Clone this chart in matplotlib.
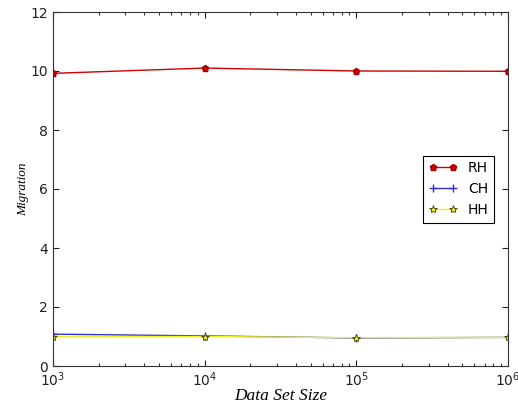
import matplotlib
matplotlib.use("Agg")
import matplotlib.pyplot as plt

sizes = [1e3, 1e4, 1e5, 1e6]
rh = [9.92, 10.1, 10.0, 9.99]
ch = [1.08, 1.02, 0.95, 0.97]
hh = [1.0, 1.0, 0.96, 0.97]

plt.rcParams["xtick.direction"] = "in"
plt.rcParams["ytick.direction"] = "in"
plt.rcParams["xtick.top"] = True
plt.rcParams["ytick.right"] = True


def main():
    fig = plt.figure(figsize=(5.18, 4.07), dpi=100)
    ax = fig.add_axes([53 / 518, 41 / 407, 455 / 518, 354 / 407])

    ax.plot(sizes, rh, color="#d00000", marker="p", markersize=5, lw=1,
            markeredgecolor="#a00000", label="RH")
    ax.plot(sizes, ch, color="#3030d0", marker="+", markersize=6, lw=1,
            label="CH")
    ax.plot(sizes, hh, color="#f0f020", marker="*", markersize=6, lw=1,
            markerfacecolor="#f0f020", markeredgecolor="#404000",
            markeredgewidth=0.6, label="HH")

    ax.set_xscale("log")
    ax.set_xlim(1e3, 1e6)
    ax.set_ylim(0, 12)
    ax.set_yticks(range(0, 13, 2))
    ax.tick_params(labelsize=10, length=4, colors="#222222")
    ax.tick_params(which="minor", length=2)
    for s in ax.spines.values():
        s.set_color("#333333")

    ax.set_xlabel("Data Set Size", fontfamily="Liberation Serif",
                  fontstyle="italic", fontsize=12.5, labelpad=-1)
    ax.set_ylabel("Migration", fontfamily="Liberation Serif",
                  fontstyle="italic", fontsize=9.5, labelpad=1)

    leg = ax.legend(loc="center right", bbox_to_anchor=(0.985, 0.5),
                    numpoints=2, fancybox=False, framealpha=1,
                    edgecolor="black", fontsize=10, handlelength=2.0,
                    borderpad=0.4, labelspacing=0.5, handletextpad=0.8)
    leg.get_frame().set_linewidth(0.8)

    fig.savefig("out.png", dpi=100)
    plt.close(fig)


if __name__ == "__main__":
    main()
